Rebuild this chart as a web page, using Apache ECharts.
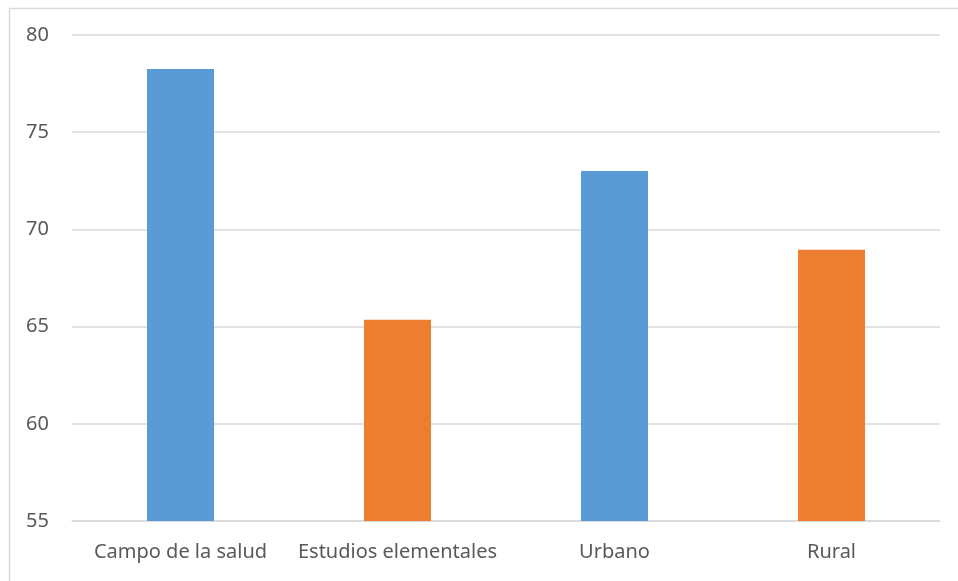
<!DOCTYPE html>
<html>
<head>
<meta charset="utf-8">
<script src="https://cdn.jsdelivr.net/npm/echarts@6/dist/echarts.min.js"></script>
<style>html,body{margin:0;padding:0;background:#fff}#c{width:958px;height:581px}</style>
</head>
<body>
<div id="c"></div>
<script>
const categories = ['Campo de la salud', 'Estudios elementales', 'Urbano', 'Rural'];
const values = [78.25, 65.35, 73.0, 68.95];
const barColors = ['#5B9BD5', '#ED7D31', '#5B9BD5', '#ED7D31'];
const yMin = 55, yMax = 80, yStep = 5;

const chart = echarts.init(document.getElementById('c'), null, {renderer: 'canvas'});
chart.setOption({
  animation: false,
  backgroundColor: '#fff',
  graphic: [{
    type: 'rect', left: 7, top: 6, silent: true,
    shape: {width: 1000, height: 1000},
    style: {fill: 'none', stroke: '#D9D9D9', lineWidth: 1.5}
  }],
  grid: {left: 72, right: 18, top: 35, bottom: 60, containLabel: false},
  xAxis: {
    type: 'category', data: categories,
    axisLine: {lineStyle: {color: '#D9D9D9', width: 1.5}},
    axisTick: {show: false},
    axisLabel: {color: '#595959', fontSize: 20, fontFamily: 'Noto Sans', margin: 21, interval: 0}
  },
  yAxis: {
    type: 'value', min: yMin, max: yMax, interval: yStep,
    axisLine: {show: false}, axisTick: {show: false},
    splitLine: {lineStyle: {color: '#D9D9D9', width: 1.5}},
    axisLabel: {color: '#595959', fontSize: 20, fontFamily: 'Noto Sans', margin: 23}
  },
  series: [{
    type: 'bar', barWidth: 67,
    data: values.map((v, i) => ({value: v, itemStyle: {color: barColors[i]}}))
  }]
});
</script>
</body>
</html>
